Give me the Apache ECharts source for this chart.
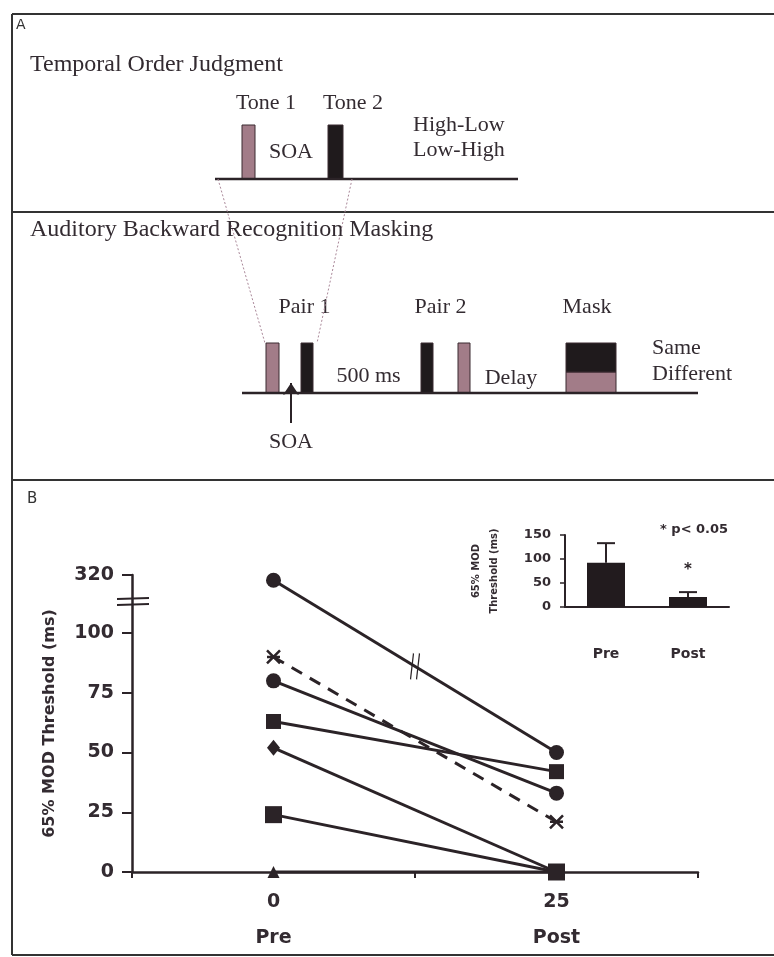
<!DOCTYPE html>
<html>
<head>
<meta charset="utf-8">
<script src="https://cdn.jsdelivr.net/npm/echarts@6/dist/echarts.min.js"></script>
<style>
html, body { margin: 0; padding: 0; background: #fff; }
#chart { width: 774px; height: 957px; }
</style>
</head>
<body>
<div id="chart"></div>
<script>
// ---- panel B data: 65% MOD threshold (ms) per subject, Pre vs Post ----
let sessions = [0, 25];
let sessionNames = {0: "Pre", 25: "Post"};
let subjA = [300, 50];  // circle, above the axis break
let subjB = [90, 21];   // asterisk, dashed
let subjC = [80, 33];   // circle
let subjD = [63, 42];   // square
let subjE = [52, 0];    // diamond
let subjF = [24, 0];    // square
let subjG = [0, 0];     // triangle

// inset: group means and SEM
let groupNames = ["Pre", "Post"];
let groupMeans = [92, 21];
let groupSem = [41, 10];

// ---- panel A: stimulus schematic (x in schematic time units, y 0 = baseline, 1 = tone top) ----
// [x0, x1, y0, y1, tone]  tone 0 = mauve, 1 = black
let tojBlocks = [[8.4, 11, 0, 1, 0], [25.6, 28.6, 0, 1, 1]];
let abrmBlocks = [
    [13.2, 15.8, 0, 1, 0], [20.2, 22.6, 0, 1, 1],
    [44.2, 46.6, 0, 1, 1], [51.6, 54, 0, 1, 0],
    [73.2, 83.2, 0, 0.42, 0], [73.2, 83.2, 0.42, 1, 1]
];
let tojLabels = [[13.2, 1.41, "Tone 1", "center"], [30.6, 1.41, "Tone 2", "center"],
    [18.2, 0.5, "SOA", "center"], [42.6, 1.0, "High-Low", "left"], [42.6, 0.54, "Low-High", "left"]];
let abrmLabels = [[20.9, 1.72, "Pair 1", "center"], [48.1, 1.72, "Pair 2", "center"],
    [77.4, 1.72, "Mask", "center"], [33.7, 0.34, "500 ms", "center"], [62.2, 0.3, "Delay", "center"],
    [90.4, 0.9, "Same", "left"], [90.4, 0.38, "Different", "left"], [18.2, -0.98, "SOA", "center"]];
let tojTrack = [[3, 0], [63.6, 0]];
let abrmTrack = [[8.4, 0], [99.6, 0]];
let zoomLeft = [[3.6, 0], [13, -3.04]];
let zoomRight = [[30.4, 0], [23.4, -3.04]];
let soaArrow = [[18.2, -0.6], [18.2, 0.2]];

const ink = "#2b2327";
const textInk = "#332b31";
const mauve = "#a27c88";
const sans = "DejaVu Sans";
const serif = "Liberation Serif";

// y axis is broken above 100: 100..320 squeezed into a short stretch
function toDisplay(v) {
    return v <= 100 ? v : 100 + (v - 100) * 24.3 / 220;
}
function fromDisplay(d) {
    return d <= 100 ? d : 100 + (d - 100) * 220 / 24.3;
}

function subjectSeries(vals, symbol, size, dashed) {
    return {
        type: "line",
        xAxisIndex: 0,
        yAxisIndex: 0,
        data: sessions.map((s, i) => [s, toDisplay(vals[i])]),
        symbol: symbol,
        symbolSize: size,
        lineStyle: {color: ink, width: 3, type: dashed ? [12, 9] : "solid"},
        itemStyle: {color: ink, borderColor: ink, borderWidth: dashed ? 2.5 : 0},
        z: 3
    };
}

function blockSeries(blocks, idx) {
    return {
        type: "custom",
        xAxisIndex: idx,
        yAxisIndex: idx,
        clip: false,
        data: blocks.map(b => [b[0], b[1], b[2], b[3]]),
        renderItem: (params, api) => {
            let b = blocks[params.dataIndex];
            let p0 = api.coord([b[0], b[3]]);
            let p1 = api.coord([b[1], b[2]]);
            return {
                type: "rect",
                shape: {x: p0[0], y: p0[1], width: p1[0] - p0[0], height: p1[1] - p0[1]},
                style: {fill: b[4] ? "#1f1a1c" : mauve, stroke: "#3a2a30", lineWidth: 1}
            };
        }
    };
}

function labelSeries(labels, idx) {
    return {
        type: "custom",
        xAxisIndex: idx,
        yAxisIndex: idx,
        clip: false,
        data: labels.map(l => [l[0], l[1]]),
        renderItem: (params, api) => {
            let l = labels[params.dataIndex];
            let p = api.coord([l[0], l[1]]);
            return {
                type: "text",
                x: p[0],
                y: p[1],
                style: {text: l[2], fill: textInk, fontSize: 22, fontFamily: serif,
                        align: l[3], verticalAlign: "middle"}
            };
        }
    };
}

function trackSeries(pts, idx, style) {
    return {
        type: "line",
        xAxisIndex: idx,
        yAxisIndex: idx,
        clip: false,
        data: pts,
        symbol: "none",
        lineStyle: style,
        silent: true
    };
}

var myChart = echarts.init(document.getElementById("chart"));
myChart.setOption({
    animation: false,
    backgroundColor: "#fff",
    textStyle: {fontFamily: sans},
    title: [
        {text: "Temporal Order Judgment", left: 30, top: 53, padding: 0,
         textStyle: {fontFamily: serif, fontSize: 24, fontWeight: "normal", color: textInk}},
        {text: "Auditory Backward Recognition Masking", left: 30, top: 218, padding: 0,
         textStyle: {fontFamily: serif, fontSize: 24, fontWeight: "normal", color: textInk}}
    ],
    graphic: [
        {type: "line", shape: {x1: 12, y1: 14, x2: 774, y2: 14}, style: {stroke: "#333", lineWidth: 2}},
        {type: "line", shape: {x1: 12, y1: 212, x2: 774, y2: 212}, style: {stroke: "#333", lineWidth: 2}},
        {type: "line", shape: {x1: 12, y1: 480, x2: 774, y2: 480}, style: {stroke: "#333", lineWidth: 2}},
        {type: "line", shape: {x1: 12, y1: 955, x2: 774, y2: 955}, style: {stroke: "#333", lineWidth: 2}},
        {type: "line", shape: {x1: 12, y1: 14, x2: 12, y2: 955}, style: {stroke: "#333", lineWidth: 2}},
        {type: "text", left: 16, top: 18, style: {text: "A", fontSize: 14, fontFamily: sans, fill: "#333"}},
        {type: "text", left: 27, top: 492, style: {text: "B", fontSize: 15, fontFamily: sans, fill: "#333"}},
        {type: "text", left: 660, top: 523, style: {text: "* p< 0.05", fontSize: 13, fontWeight: "bold",
            fontFamily: sans, fill: textInk}}
    ],
    grid: [
        {left: 132, right: 76, top: 575, bottom: 85},
        {left: 565, right: 45, top: 535, bottom: 350},
        {left: 200, width: 540, top: 125, height: 54},
        {left: 200, width: 540, top: 343, height: 50}
    ],
    xAxis: [
        {
            gridIndex: 0, type: "value", min: -12.5, max: 37.5, interval: 12.5,
            axisLine: {onZero: false, lineStyle: {color: ink, width: 2.5}},
            axisTick: {length: 6, lineStyle: {color: ink, width: 2}},
            splitLine: {show: false},
            axisLabel: {
                margin: 12,
                formatter: v => (v in sessionNames) ? `{n|${v}}\n{c|${sessionNames[v]}}` : "",
                rich: {
                    n: {fontSize: 19, fontWeight: "bold", lineHeight: 36, color: textInk, fontFamily: sans},
                    c: {fontSize: 19, fontWeight: "bold", lineHeight: 36, color: textInk, fontFamily: sans}
                }
            }
        },
        {
            gridIndex: 1, type: "category", data: groupNames,
            axisLine: {lineStyle: {color: ink, width: 2}},
            axisTick: {length: 4, lineStyle: {color: ink, width: 1.5}},
            axisLabel: {margin: 40, fontSize: 14, fontWeight: "bold", color: textInk}
        },
        {gridIndex: 2, type: "value", min: 0, max: 108, show: false},
        {gridIndex: 3, type: "value", min: 0, max: 108, show: false}
    ],
    yAxis: [
        {
            gridIndex: 0, type: "value", min: 0, max: toDisplay(320), interval: 25,
            name: "65% MOD Threshold (ms)", nameLocation: "middle", nameGap: 74,
            nameTextStyle: {fontSize: 16, fontWeight: "bold", color: textInk},
            axisLine: {show: true, onZero: false, lineStyle: {color: ink, width: 2.5}},
            axisTick: {show: true, length: 10, lineStyle: {color: ink, width: 2}},
            splitLine: {show: false},
            axisLabel: {
                margin: 18, fontSize: 19, fontWeight: "bold", color: textInk,
                formatter: v => String(Math.round(fromDisplay(v)))
            }
        },
        {
            gridIndex: 1, type: "value", min: 0, max: 150, interval: 50,
            name: "65% MOD\nThreshold (ms)", nameLocation: "middle", nameGap: 62,
            nameTextStyle: {fontSize: 10, fontWeight: "bold", lineHeight: 18, color: textInk},
            axisLine: {show: true, lineStyle: {color: ink, width: 2}},
            axisTick: {show: true, length: 5, lineStyle: {color: ink, width: 1.5}},
            splitLine: {show: false},
            axisLabel: {margin: 14, fontSize: 13, fontWeight: "bold", color: textInk}
        },
        {gridIndex: 2, type: "value", min: 0, max: 1, show: false},
        {gridIndex: 3, type: "value", min: 0, max: 1, show: false}
    ],
    series: [
        Object.assign(subjectSeries(subjA, "circle", 15, false), {
            markPoint: {
                silent: true,
                symbol: "path://M3,0L0,26M9,0L6,26",
                symbolSize: [9, 26],
                itemStyle: {color: "none", borderColor: ink, borderWidth: 2},
                label: {show: false},
                data: [{coord: [12.5, (toDisplay(subjA[0]) + toDisplay(subjA[1])) / 2]}]
            }
        }),
        subjectSeries(subjB, "path://M0,0L10,10M10,0L0,10M0,5L10,5", 13, true),
        subjectSeries(subjC, "circle", 15, false),
        subjectSeries(subjD, "rect", 15, false),
        subjectSeries(subjG, "triangle", 12, false),
        subjectSeries(subjE, "diamond", [13, 16], false),
        subjectSeries(subjF, "rect", 17, false),
        {
            // "=" break mark on the y axis
            type: "custom",
            xAxisIndex: 0,
            yAxisIndex: 0,
            clip: false,
            silent: true,
            data: [[-12.5, 113]],
            renderItem: (params, api) => {
                let p = api.coord([api.value(0), api.value(1)]);
                return {
                    type: "group",
                    children: [
                        {type: "line", shape: {x1: p[0] - 15, y1: p[1] - 3, x2: p[0] + 17, y2: p[1] - 4},
                         style: {stroke: ink, lineWidth: 2}},
                        {type: "line", shape: {x1: p[0] - 15, y1: p[1] + 3, x2: p[0] + 17, y2: p[1] + 2},
                         style: {stroke: ink, lineWidth: 2}}
                    ]
                };
            }
        },
        {
            type: "bar",
            xAxisIndex: 1,
            yAxisIndex: 1,
            data: groupMeans,
            barWidth: 38,
            itemStyle: {color: "#221b1e"},
            markPoint: {
                silent: true,
                symbol: "circle",
                symbolSize: 1,
                label: {show: true, formatter: "*", fontSize: 15, fontWeight: "bold", color: ink,
                        position: "inside", offset: [0, 4]},
                data: [{coord: [1, 86]}]
            }
        },
        {
            type: "custom",
            xAxisIndex: 1,
            yAxisIndex: 1,
            data: groupNames.map((g, i) => [i, groupMeans[i], groupSem[i]]),
            renderItem: (params, api) => {
                let base = api.coord([api.value(0), api.value(1)]);
                let top = api.coord([api.value(0), api.value(1) + api.value(2)]);
                return {
                    type: "group",
                    children: [
                        {type: "line", shape: {x1: base[0], y1: base[1], x2: top[0], y2: top[1]},
                         style: {stroke: ink, lineWidth: 2}},
                        {type: "line", shape: {x1: top[0] - 9, y1: top[1], x2: top[0] + 9, y2: top[1]},
                         style: {stroke: ink, lineWidth: 2}}
                    ]
                };
            }
        },
        trackSeries(tojTrack, 2, {color: ink, width: 2.5}),
        trackSeries(zoomLeft, 2, {color: "#a89", width: 1, type: [2, 2]}),
        trackSeries(zoomRight, 2, {color: "#a89", width: 1, type: [2, 2]}),
        blockSeries(tojBlocks, 2),
        labelSeries(tojLabels, 2),
        trackSeries(abrmTrack, 3, {color: ink, width: 2.5}),
        blockSeries(abrmBlocks, 3),
        labelSeries(abrmLabels, 3),
        {
            type: "lines",
            coordinateSystem: "cartesian2d",
            xAxisIndex: 3,
            yAxisIndex: 3,
            clip: false,
            symbol: ["none", "arrow"],
            symbolSize: 12,
            lineStyle: {color: ink, width: 2, opacity: 1},
            data: [{coords: soaArrow}]
        }
    ]
});
</script>
</body>
</html>
